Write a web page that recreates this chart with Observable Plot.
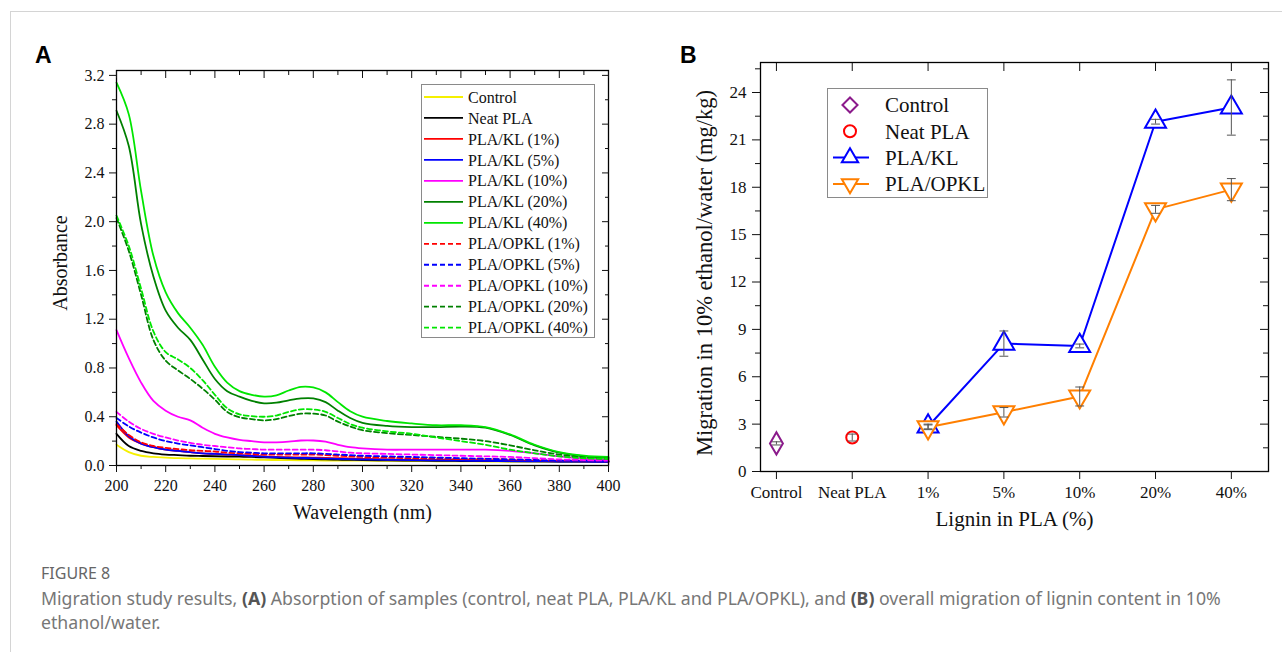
<!DOCTYPE html>
<html><head><meta charset="utf-8">
<script src="https://cdn.jsdelivr.net/npm/d3@7"></script>
<script src="https://cdn.jsdelivr.net/npm/@observablehq/plot@0.6"></script>
<style>
body{margin:0;background:#fff;}
#wrap{position:relative;width:1282px;height:652px;overflow:hidden;background:#fff;font-family:"Liberation Serif","Times New Roman",serif;}
#border{position:absolute;left:10px;top:11px;width:1300px;height:700px;border-top:1px solid #d4d4d4;border-left:1px solid #d4d4d4;}
.plabel{position:absolute;font-family:"Liberation Sans",Arial,sans-serif;font-weight:bold;font-size:23px;color:#000;line-height:1;}
#plotA{position:absolute;left:0;top:0;}
#plotB{position:absolute;left:640px;top:0;}
.legend{position:absolute;border:1px solid #8a8a8a;background:#fff;box-sizing:border-box;}
.legend svg{position:absolute;left:0;top:0;}
#figlabel{position:absolute;left:41px;top:563px;font-family:"Noto Sans",sans-serif;font-size:16px;color:#666;line-height:20px;}
#caption{position:absolute;left:41px;top:586px;font-family:"Noto Sans",sans-serif;font-size:17.7px;color:#777;line-height:24px;white-space:nowrap;}
#caption b{color:#555;}
</style>
</head><body>
<div id="wrap">
  <div id="border"></div>
  <div id="plotA"></div>
  <div id="plotB"></div>
  <div class="plabel" style="left:35px;top:44px;">A</div>
  <div class="plabel" style="left:680px;top:44px;">B</div>
  <div class="legend" id="legA" style="left:421px;top:84px;width:174px;height:254px;"></div>
  <div class="legend" id="legB" style="left:827px;top:88px;width:161px;height:110px;"></div>
  <div id="figlabel">FIGURE 8</div>
  <div id="caption">Migration study results, <b>(A)</b> Absorption of samples (control, neat PLA, PLA/KL and PLA/OPKL), and <b>(B)</b> overall migration of lignin content in 10%<br>ethanol/water.</div>
</div>
<script>
// ---------- Panel A data ----------
const wavelengths = [200,205,210,215,220,225,230,235,240,245,250,255,260,265,270,275,280,285,290,295,300,310,320,330,340,350,360,370,380,390,400];
const seriesNames = ["Control","Neat PLA","PLA/KL (1%)","PLA/KL (5%)","PLA/KL (10%)","PLA/KL (20%)","PLA/KL (40%)","PLA/OPKL (1%)","PLA/OPKL (5%)","PLA/OPKL (10%)","PLA/OPKL (20%)","PLA/OPKL (40%)"];
const seriesColors = ["#f5f000","#000000","#ff0000","#0000ff","#ff00ff","#008000","#00e600","#ff0000","#0000ff","#ff00ff","#008000","#00e600"];
const seriesDashed = [false,false,false,false,false,false,false,true,true,true,true,true];

const absControl = [0.17,0.11,0.08,0.07,0.065,0.06,0.058,0.056,0.054,0.052,0.05,0.048,0.046,0.045,0.044,0.043,0.042,0.041,0.04,0.04,0.04,0.038,0.036,0.035,0.034,0.033,0.032,0.031,0.03,0.03,0.03];
const absNeat = [0.26,0.16,0.12,0.1,0.09,0.085,0.08,0.078,0.076,0.074,0.072,0.07,0.066,0.062,0.058,0.055,0.052,0.05,0.048,0.046,0.045,0.042,0.04,0.038,0.037,0.036,0.035,0.034,0.033,0.032,0.03];
const absKL1 = [0.33,0.23,0.18,0.15,0.13,0.12,0.11,0.1,0.095,0.09,0.085,0.08,0.075,0.07,0.068,0.066,0.065,0.062,0.06,0.058,0.055,0.05,0.048,0.046,0.045,0.043,0.04,0.038,0.036,0.035,0.034];
const absKL5 = [0.36,0.24,0.18,0.15,0.13,0.12,0.11,0.1,0.095,0.09,0.085,0.078,0.072,0.068,0.064,0.062,0.06,0.057,0.055,0.052,0.05,0.047,0.044,0.042,0.04,0.038,0.036,0.034,0.032,0.031,0.03];
const absKL10 = [1.11,0.88,0.68,0.53,0.45,0.40,0.37,0.31,0.26,0.23,0.21,0.2,0.19,0.19,0.195,0.205,0.205,0.195,0.17,0.15,0.14,0.13,0.13,0.13,0.13,0.13,0.12,0.1,0.075,0.055,0.045];
const absKL20 = [2.91,2.62,1.98,1.55,1.27,1.13,1.03,0.87,0.71,0.61,0.565,0.53,0.51,0.515,0.535,0.55,0.55,0.52,0.45,0.39,0.35,0.325,0.315,0.315,0.32,0.31,0.25,0.165,0.105,0.075,0.065];
const absKL40 = [3.14,2.88,2.25,1.72,1.42,1.25,1.13,0.99,0.81,0.68,0.61,0.58,0.565,0.575,0.615,0.645,0.64,0.6,0.52,0.445,0.4,0.365,0.345,0.33,0.33,0.315,0.255,0.17,0.11,0.08,0.07];
const absOPKL1 = [0.34,0.25,0.19,0.16,0.145,0.135,0.125,0.12,0.115,0.105,0.1,0.095,0.09,0.09,0.09,0.09,0.09,0.085,0.08,0.075,0.07,0.065,0.06,0.06,0.055,0.055,0.05,0.045,0.04,0.04,0.035];
const absOPKL5 = [0.39,0.32,0.27,0.23,0.2,0.18,0.165,0.15,0.135,0.12,0.11,0.105,0.1,0.1,0.1,0.1,0.1,0.095,0.09,0.085,0.08,0.075,0.07,0.065,0.06,0.055,0.05,0.045,0.04,0.04,0.035];
const absOPKL10 = [0.44,0.36,0.3,0.26,0.23,0.205,0.185,0.17,0.16,0.15,0.14,0.135,0.13,0.13,0.13,0.13,0.13,0.125,0.115,0.105,0.1,0.095,0.09,0.085,0.08,0.075,0.07,0.06,0.05,0.045,0.04];
const absOPKL20 = [2.03,1.76,1.40,1.03,0.86,0.78,0.71,0.63,0.54,0.44,0.395,0.38,0.37,0.38,0.405,0.425,0.425,0.41,0.36,0.32,0.29,0.265,0.25,0.235,0.22,0.2,0.165,0.125,0.09,0.065,0.055];
const absOPKL40 = [2.05,1.80,1.45,1.10,0.93,0.87,0.80,0.70,0.58,0.47,0.42,0.405,0.40,0.41,0.44,0.46,0.46,0.44,0.39,0.34,0.31,0.28,0.26,0.23,0.2,0.17,0.13,0.1,0.075,0.06,0.055];
const absSeries = [absControl,absNeat,absKL1,absKL5,absKL10,absKL20,absKL40,absOPKL1,absOPKL5,absOPKL10,absOPKL20,absOPKL40];

const xTicksA = [200,220,240,260,280,300,320,340,360,380,400];
const xMinorA = [210,230,250,270,290,310,330,350,370,390];
const yTicksA = [0.0,0.4,0.8,1.2,1.6,2.0,2.4,2.8,3.2];
const yMinorA = [0.2,0.6,1.0,1.4,1.8,2.2,2.6,3.0];

// ---------- Panel B data ----------
const groupsB = ["Control","Neat PLA","1%","5%","10%","20%","40%"];
const controlMean = [1.78], controlSd = [0.1];
const neatMean = [2.15], neatSd = [0.22];
const ligninLevels = ["1%","5%","10%","20%","40%"];
const klMean = [2.85, 8.1, 7.95, 22.15, 23.05];
const klSd = [0.15, 0.8, 0.12, 0.15, 1.75];
const opklMean = [2.8, 3.75, 4.75, 16.6, 17.85];
const opklSd = [0.15, 0.3, 0.6, 0.25, 0.7];
const yTicksB = [0,3,6,9,12,15,18,21,24];
const yMinorB = [1.5,4.5,7.5,10.5,13.5,16.5,19.5,22.5,25.5];
const colorControl = "#8b1a8b", colorNeat = "#ff0000", colorKL = "#0000ff", colorOPKL = "#ff7f00";

const blank = () => "";
const serif = "'Liberation Serif','Times New Roman',serif";

// ---------- Plot A ----------
const lineMarks = absSeries.map((vals, i) => Plot.line(wavelengths, {
  x: d => d, y: (d, j) => vals[j],
  stroke: seriesColors[i], strokeWidth: 1.8,
  strokeDasharray: seriesDashed[i] ? "5,3" : null,
  curve: "catmull-rom"
}));

const plotA = Plot.plot({
  width: 640, height: 540,
  marginLeft: 116, marginRight: 32, marginTop: 70, marginBottom: 75,
  style: {fontFamily: serif, fontSize: "16px", color: "#111", background: "transparent", overflow: "visible"},
  x: {domain: [200, 400]},
  y: {domain: [0, 3.24]},
  marks: [
    ...lineMarks,
    Plot.frame({stroke: "#000", strokeWidth: 1.3}),
    Plot.axisX(xTicksA, {anchor: "bottom", tickSize: 7, tickPadding: 7, tickFormat: d => String(d), label: null}),
    Plot.axisX(xMinorA, {anchor: "bottom", tickSize: 4, tickFormat: blank, label: null}),
    Plot.axisX(xTicksA, {anchor: "top", tickSize: -7, tickFormat: blank, label: null}),
    Plot.axisX(xMinorA, {anchor: "top", tickSize: -4, tickFormat: blank, label: null}),
    Plot.axisY(yTicksA, {anchor: "left", tickSize: 7, tickPadding: 5, tickFormat: d3.format(".1f"), label: null}),
    Plot.axisY(yMinorA, {anchor: "left", tickSize: 4, tickFormat: blank, label: null}),
    Plot.axisY(yTicksA, {anchor: "right", tickSize: -7, tickFormat: blank, label: null}),
    Plot.axisY(yMinorA, {anchor: "right", tickSize: -4, tickFormat: blank, label: null}),
    Plot.text(["Absorbance"], {text: d => d, frameAnchor: "left", textAnchor: "middle", dx: -56, dy: -5, rotate: -90, fontSize: 20}),
    Plot.text(["Wavelength (nm)"], {text: d => d, frameAnchor: "bottom", textAnchor: "middle", dy: 53, fontSize: 20})
  ]
});
document.getElementById("plotA").appendChild(plotA);

// ---------- Plot B ----------
const hbar = {draw(context, size) { const w = Math.sqrt(size) / 2; context.moveTo(-w, 0); context.lineTo(w, 0); }};
const idx = g => groupsB.indexOf(g);
const errMarks = (levels, mean, sd) => [
  Plot.ruleX(levels, {x: d => idx(d), y1: (d, i) => mean[i] - sd[i], y2: (d, i) => mean[i] + sd[i], stroke: "#555", strokeWidth: 1}),
  Plot.dot(levels, {x: d => idx(d), y: (d, i) => mean[i] - sd[i], symbol: hbar, r: 5, stroke: "#555", strokeWidth: 1}),
  Plot.dot(levels, {x: d => idx(d), y: (d, i) => mean[i] + sd[i], symbol: hbar, r: 5, stroke: "#555", strokeWidth: 1})
];

const plotB = Plot.plot({
  width: 642, height: 540,
  marginLeft: 120, marginRight: 14, marginTop: 62, marginBottom: 69,
  style: {fontFamily: serif, fontSize: "17px", color: "#111", background: "transparent", overflow: "visible"},
  x: {domain: [-0.21, 6.49]},
  y: {domain: [0, 25.9]},
  marks: [
    Plot.line(ligninLevels, {x: d => idx(d), y: (d, i) => klMean[i], stroke: colorKL, strokeWidth: 2}),
    Plot.line(ligninLevels, {x: d => idx(d), y: (d, i) => opklMean[i], stroke: colorOPKL, strokeWidth: 2}),
    Plot.dot(["Control"], {x: d => idx(d), y: (d, i) => controlMean[i], symbol: "diamond", r: 6.8, stroke: colorControl, fill: "white", strokeWidth: 2}),
    Plot.dot(["Neat PLA"], {x: d => idx(d), y: (d, i) => neatMean[i], symbol: "circle", r: 6, stroke: colorNeat, fill: "white", strokeWidth: 2}),
    Plot.dot(ligninLevels, {x: d => idx(d), y: (d, i) => klMean[i], symbol: "triangle", r: 7.8, stroke: colorKL, fill: "white", strokeWidth: 2}),
    Plot.dot(ligninLevels, {x: d => idx(d), y: (d, i) => opklMean[i], symbol: "triangle", rotate: 180, r: 7.8, stroke: colorOPKL, fill: "white", strokeWidth: 2}),
    ...errMarks(["Control"], controlMean, controlSd),
    ...errMarks(["Neat PLA"], neatMean, neatSd),
    ...errMarks(ligninLevels, klMean, klSd),
    ...errMarks(ligninLevels, opklMean, opklSd),
    Plot.frame({stroke: "#000", strokeWidth: 1.3}),
    Plot.axisX(d3.range(groupsB.length), {anchor: "bottom", tickSize: 8, tickPadding: 6, tickFormat: i => groupsB[i], label: null}),
    Plot.axisX(d3.range(groupsB.length), {anchor: "top", tickSize: -8, tickFormat: blank, label: null}),
    Plot.axisY(yTicksB, {anchor: "left", tickSize: 8, tickPadding: 6, tickFormat: d => String(d), label: null}),
    Plot.axisY(yMinorB, {anchor: "left", tickSize: 5, tickFormat: blank, label: null}),
    Plot.axisY(yTicksB, {anchor: "right", tickSize: -9, tickFormat: blank, label: null}),
    Plot.axisY(yMinorB, {anchor: "right", tickSize: -6, tickFormat: blank, label: null}),
    Plot.text(["Migration in 10% ethanol/water (mg/kg)"], {text: d => d, frameAnchor: "left", textAnchor: "middle", dx: -56, dy: 6, rotate: -90, fontSize: 22.5}),
    Plot.text(["Lignin in PLA (%)"], {text: d => d, frameAnchor: "bottom", textAnchor: "middle", dy: 54, fontSize: 21})
  ]
});
document.getElementById("plotB").appendChild(plotB);

// ---------- Legend A ----------
(function(){
  const el = document.getElementById("legA");
  const svg = d3.select(el).append("svg").attr("width", 174).attr("height", 254);
  seriesNames.forEach((name, i) => {
    const y = 12 + i * 20.97;
    svg.append("line").attr("x1", 2).attr("x2", 41).attr("y1", y).attr("y2", y)
      .attr("stroke", seriesColors[i]).attr("stroke-width", 1.8)
      .attr("stroke-dasharray", seriesDashed[i] ? "5,3" : null);
    svg.append("text").attr("x", 46).attr("y", y).attr("dy", "0.35em")
      .attr("font-family", serif).attr("font-size", 16).attr("fill", "#111").text(name);
  });
})();

// ---------- Legend B ----------
(function(){
  const el = document.getElementById("legB");
  const svg = d3.select(el).append("svg").attr("width", 161).attr("height", 110);
  const items = [
    {name: "Control", color: colorControl, symbol: d3.symbolDiamond2, size: 6.8, rot: 0, line: false},
    {name: "Neat PLA", color: colorNeat, symbol: d3.symbolCircle, size: 6, rot: 0, line: false},
    {name: "PLA/KL", color: colorKL, symbol: d3.symbolTriangle2, size: 7.8, rot: 0, line: true},
    {name: "PLA/OPKL", color: colorOPKL, symbol: d3.symbolTriangle2, size: 7.8, rot: 180, line: true}
  ];
  items.forEach((it, i) => {
    const y = 16 + i * 26.3;
    if (it.line) svg.append("line").attr("x1", 5).attr("x2", 41).attr("y1", y).attr("y2", y).attr("stroke", it.color).attr("stroke-width", 2);
    svg.append("path").attr("d", d3.symbol(it.symbol, Math.PI * it.size * it.size)())
      .attr("transform", `translate(22,${y}) rotate(${it.rot})`)
      .attr("fill", "white").attr("stroke", it.color).attr("stroke-width", 2);
    svg.append("text").attr("x", 57).attr("y", y).attr("dy", "0.35em")
      .attr("font-family", serif).attr("font-size", 21).attr("fill", "#111").text(it.name);
  });
})();
</script>
</body></html>
